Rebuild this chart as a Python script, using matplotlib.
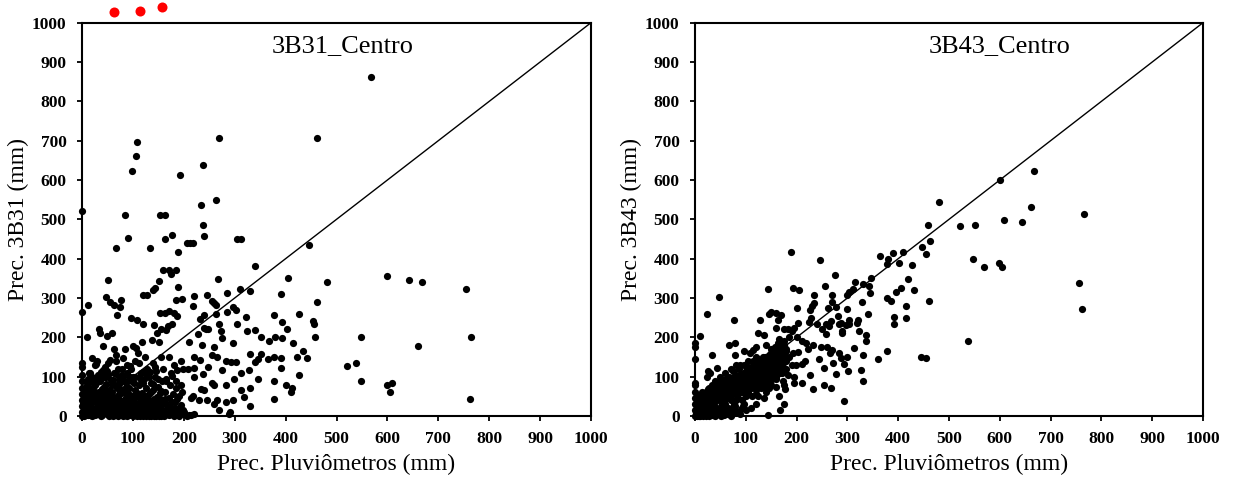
import matplotlib
matplotlib.use('Agg')
import matplotlib.pyplot as plt

plt.rcParams['font.family'] = ['Liberation Serif', 'DejaVu Serif']

# ---- 3B31 panel: (pluviometer, satellite) pairs ----
b31_scatter = [
    (567, 862), (462, 707), (270, 707), (108, 697), (107, 662), (98, 623), (237, 638),
    (192, 612), (264, 550), (234, 537), (0, 520), (84, 511), (153, 510), (164, 510),
    (238, 485), (240, 458), (90, 452), (163, 451), (176, 461), (206, 440), (213, 441),
    (218, 441), (305, 449), (312, 449), (446, 436), (66, 427), (134, 427), (189, 418),
    (339, 381), (160, 372), (170, 370), (185, 370), (175, 360), (405, 352), (268, 348),
    (152, 343), (51, 345), (482, 341), (600, 357), (643, 345), (667, 341), (754, 323),
    (189, 327), (139, 320), (144, 325), (310, 322), (330, 317), (285, 313), (47, 303),
    (76, 296), (120, 308), (128, 307), (220, 306), (245, 307), (184, 296), (196, 297),
    (255, 293), (259, 288), (55, 289), (63, 282), (11, 283), (0, 264), (69, 258),
    (75, 276), (96, 249), (108, 243), (163, 263), (170, 266), (180, 261), (187, 254),
    (153, 263), (219, 280), (263, 282), (263, 260), (240, 256), (232, 246), (284, 265),
    (297, 277), (302, 270), (378, 257), (390, 310), (462, 290), (427, 260), (393, 238),
    (454, 241), (456, 235), (322, 252), (270, 234), (273, 217), (239, 225), (247, 222),
    (304, 233), (340, 219), (325, 217), (402, 221), (176, 234), (168, 228), (155, 220),
    (165, 218), (141, 232), (147, 212), (119, 234), (59, 212), (34, 221), (35, 210),
    (10, 202), (50, 203), (380, 200), (393, 198), (457, 200), (549, 202), (764, 200),
    (352, 200), (367, 190), (297, 186), (275, 198), (243, 222), (210, 188), (227, 208),
    (138, 192), (151, 188), (118, 187), (100, 178), (107, 173), (62, 170), (42, 177),
    (85, 170), (415, 185), (434, 166), (661, 178), (260, 176), (236, 180), (330, 158),
    (352, 158), (422, 151), (442, 148), (378, 150), (390, 147), (255, 155), (265, 150),
    (293, 137), (303, 137), (339, 138), (345, 145), (282, 140), (365, 145), (521, 128),
    (538, 135), (390, 123), (275, 118), (328, 117), (313, 110), (238, 108), (248, 125),
    (220, 150), (231, 143), (195, 140), (220, 123), (170, 150), (155, 150), (180, 130),
    (175, 110), (199, 120), (208, 120), (140, 135), (112, 135), (95, 128), (80, 148),
    (66, 155), (55, 142), (30, 140), (20, 148), (0, 135), (0, 125), (45, 125), (35, 105),
    (15, 110), (27, 133), (50, 115), (70, 120), (100, 100), (125, 110), (145, 115),
    (160, 120), (150, 95), (120, 85), (90, 90), (427, 103), (378, 88), (345, 95),
    (298, 95), (220, 98), (255, 85), (260, 78), (283, 78), (195, 80), (185, 90), (165, 95),
    (549, 88), (600, 80), (609, 85), (606, 60), (762, 42), (377, 43), (400, 78), (412, 70),
    (411, 60), (313, 67), (330, 70), (233, 68), (240, 67), (297, 40), (265, 40), (245, 40),
    (230, 40), (215, 45), (218, 52), (318, 48), (330, 25), (283, 35), (260, 30), (270, 15),
    (290, 10), (288, 5), (220, 5), (215, 3), (198, 15), (190, 20), (200, 5), (210, 3),
]
b31_cluster = [
    (0, 0), (2, 5), (4, 12), (5, 20), (7, 3), (8, 30), (10, 8), (12, 15), (13, 40), (15, 2),
    (16, 25), (18, 55), (20, 10), (21, 35), (22, 70), (24, 4), (25, 18), (27, 45), (28, 85),
    (30, 6), (31, 28), (33, 60), (35, 12), (36, 90), (38, 22), (40, 3), (41, 50), (43, 75),
    (45, 15), (46, 33), (48, 100), (50, 5), (52, 25), (53, 65), (55, 40), (57, 10), (58, 80),
    (60, 18), (62, 48), (63, 110), (65, 2), (67, 30), (68, 70), (70, 14), (72, 55), (73, 95),
    (75, 7), (77, 38), (78, 120), (80, 20), (82, 60), (83, 88), (85, 3), (87, 45), (88, 130),
    (90, 12), (92, 72), (93, 28), (95, 100), (97, 6), (98, 52), (100, 35), (102, 85),
    (103, 15), (105, 140), (107, 62), (108, 4), (110, 25), (112, 78), (113, 45), (115, 110),
    (117, 8), (118, 58), (120, 30), (122, 95), (123, 16), (125, 70), (127, 42), (128, 120),
    (130, 5), (132, 55), (133, 22), (135, 85), (137, 38), (138, 10), (140, 65), (142, 30),
    (143, 100), (145, 18), (147, 48), (148, 3), (150, 75), (152, 26), (153, 58), (155, 10),
    (157, 40), (158, 88), (160, 15), (163, 62), (165, 30), (167, 5), (170, 45), (172, 80),
    (175, 20), (178, 55), (180, 8), (183, 35), (185, 70), (188, 12), (190, 50), (195, 28),
    (0, 10), (0, 25), (0, 40), (0, 55), (0, 70), (0, 90), (0, 105), (3, 48), (6, 62),
    (9, 78), (11, 95), (14, 110), (17, 5), (19, 88), (23, 60), (26, 130), (29, 20),
    (32, 105), (34, 42), (37, 0), (39, 68), (42, 118), (44, 8), (47, 82), (49, 58),
    (51, 135), (54, 0), (56, 92), (59, 30), (61, 0), (64, 78), (66, 140), (69, 42), (71, 0),
    (74, 68), (76, 25), (79, 105), (81, 0), (84, 20), (86, 75), (89, 0), (91, 40),
    (94, 128), (96, 2), (99, 90), (101, 0), (104, 65), (106, 20), (109, 0), (111, 160),
    (114, 0), (116, 92), (119, 0), (121, 48), (124, 150), (126, 0), (129, 28), (131, 0),
    (134, 112), (136, 0), (139, 82), (141, 0), (144, 125), (146, 0), (149, 35), (151, 0),
    (156, 0), (161, 0), (166, 90), (171, 2), (176, 102), (181, 0), (186, 118), (191, 0),
    (196, 62), (201, 10), (206, 0),
    # second pass over the solid block near the origin
    (1, 32), (3, 0), (6, 18), (9, 52), (11, 3), (14, 28), (17, 42), (19, 0), (22, 14),
    (24, 52), (26, 2), (29, 38), (31, 12), (34, 62), (36, 26), (39, 8), (42, 36), (44, 60),
    (47, 20), (49, 44), (52, 8), (54, 52), (57, 26), (59, 62), (61, 12), (64, 36), (66, 4),
    (69, 22), (71, 48), (74, 10), (76, 58), (79, 32), (81, 14), (84, 42), (86, 6), (89, 30),
    (91, 58), (94, 16), (96, 40), (99, 8), (101, 22), (104, 48), (106, 34), (109, 12),
    (111, 56), (114, 20), (116, 36), (119, 46), (121, 14), (124, 32), (126, 52), (129, 8),
    (131, 40), (134, 18), (136, 60), (139, 24), (141, 44), (144, 6), (146, 32), (149, 14),
    (151, 46), (154, 20), (156, 64), (159, 34), (162, 8), (164, 44), (168, 22), (173, 12),
    (177, 36), (182, 20), (187, 42), (192, 6), (5, 40), (8, 65), (12, 85), (15, 72),
    (20, 100), (25, 78), (30, 95), (37, 112), (44, 98), (52, 105), (60, 92), (67, 108),
    (72, 82), (80, 98), (88, 110), (96, 120), (104, 100), (112, 98), (120, 112), (131, 100),
]

# ---- 3B43 panel ----
b43_scatter = [
    (667, 622), (600, 601), (480, 544), (661, 531), (765, 513), (609, 498), (643, 493),
    (521, 482), (551, 485), (458, 486), (462, 446), (446, 430), (455, 412), (428, 384),
    (548, 400), (568, 380), (599, 390), (605, 380), (755, 337), (761, 273), (538, 190),
    (444, 150), (454, 148), (461, 292), (432, 321), (420, 348), (416, 280), (415, 250),
    (405, 325), (396, 315), (401, 388), (410, 416), (390, 414), (379, 400), (378, 386),
    (365, 406), (386, 292), (378, 300), (392, 252), (392, 235), (377, 165), (361, 145),
    (347, 350), (342, 330), (345, 312), (340, 260), (337, 205), (337, 190), (329, 290),
    (330, 335), (315, 340), (312, 322), (300, 308), (303, 315), (300, 273), (321, 245),
    (318, 237), (323, 217), (330, 155), (313, 172), (327, 117), (330, 90), (303, 245),
    (298, 232), (303, 233), (300, 150), (301, 115), (293, 37), (276, 358), (270, 307),
    (270, 290), (278, 276), (282, 255), (283, 234), (287, 237), (289, 216), (289, 210),
    (262, 275), (268, 241), (264, 228), (257, 235), (250, 220), (258, 208), (255, 330),
    (247, 396), (234, 307), (235, 287), (230, 280), (228, 250), (224, 240), (227, 270),
    (240, 235), (260, 175), (265, 160), (270, 168), (284, 160), (287, 148), (293, 133),
    (272, 135), (253, 122), (277, 106), (268, 72), (254, 78), (233, 68), (245, 145),
    (248, 175), (232, 180), (222, 170), (226, 105), (210, 85), (216, 140), (211, 132),
    (200, 275), (203, 237), (205, 320), (192, 326), (189, 418), (143, 324), (128, 244),
    (150, 265), (146, 260), (160, 262), (170, 258), (163, 245), (160, 225), (175, 220),
    (183, 222), (190, 215), (195, 225), (185, 200), (200, 200), (210, 190), (218, 185),
    (193, 160), (203, 162), (198, 130), (190, 130), (194, 100), (183, 105), (195, 85),
    (176, 78), (178, 68), (173, 90), (166, 52), (175, 30), (167, 15), (144, 2), (140, 60),
    (146, 70), (135, 45), (125, 50), (120, 30), (110, 20), (103, 55), (100, 15), (95, 25),
    (88, 5), (82, 10), (77, 243), (78, 185), (79, 155), (80, 130), (82, 100), (70, 120),
    (67, 180), (60, 80), (47, 303), (23, 259), (10, 203), (0, 185), (0, 175), (0, 145),
    (0, 85), (0, 80), (33, 155), (43, 122), (30, 110), (23, 98), (25, 115), (108, 160),
    (115, 168), (120, 175), (125, 210), (135, 205), (140, 180), (150, 170), (158, 175),
    (165, 195), (175, 180), (180, 170), (150, 140), (140, 130), (130, 120), (115, 140),
    (100, 115), (110, 105), (125, 95), (155, 110), (160, 95), (170, 120), (180, 140),
    (185, 150), (145, 155), (138, 150), (120, 150), (96, 165), (88, 130), (92, 100),
    (90, 80), (100, 75), (115, 80), (130, 70), (150, 80), (160, 75),
]
b43_cluster = [
    (0, 0), (2, 8), (3, 20), (5, 3), (6, 35), (8, 12), (9, 45), (11, 25), (12, 5), (14, 40),
    (15, 18), (17, 55), (18, 30), (20, 8), (21, 62), (23, 22), (24, 45), (26, 12), (27, 70),
    (29, 35), (30, 55), (32, 18), (33, 80), (35, 42), (36, 60), (38, 28), (39, 90), (41, 50),
    (42, 70), (44, 15), (45, 85), (47, 40), (48, 62), (50, 100), (51, 25), (53, 75),
    (54, 50), (56, 90), (57, 35), (59, 65), (60, 110), (62, 45), (63, 85), (65, 20),
    (66, 100), (68, 58), (69, 75), (71, 40), (72, 95), (74, 62), (75, 115), (77, 30),
    (78, 82), (80, 55), (81, 105), (83, 70), (84, 45), (86, 92), (87, 120), (89, 60),
    (90, 85), (92, 40), (93, 105), (95, 72), (96, 130), (98, 55), (99, 95), (101, 80),
    (102, 115), (104, 62), (105, 140), (107, 90), (108, 70), (110, 125), (111, 100),
    (113, 50), (114, 110), (116, 85), (117, 135), (119, 95), (120, 65), (122, 120),
    (123, 105), (125, 145), (126, 80), (128, 115), (129, 100), (131, 130), (132, 88),
    (134, 150), (135, 110), (137, 75), (138, 125), (140, 100), (141, 145), (143, 115),
    (144, 85), (146, 135), (147, 105), (149, 160), (150, 120), (152, 95), (153, 140),
    (155, 115), (156, 170), (158, 130), (159, 100), (161, 150), (162, 120), (164, 185),
    (165, 140), (167, 110), (168, 160), (170, 135), (171, 175), (173, 125), (174, 150),
    (176, 190), (177, 140), (179, 165), (180, 120), (0, 15), (0, 30), (0, 45), (0, 60),
    (1, 5), (4, 0), (7, 0), (10, 0), (13, 2), (16, 0), (19, 10), (22, 0), (25, 5), (28, 0),
    (31, 8), (34, 2), (37, 10), (40, 0), (43, 18), (46, 5), (49, 12), (52, 0), (55, 10),
    (58, 2), (61, 15), (64, 5), (67, 12), (70, 0), (73, 20), (76, 8), (79, 25), (85, 10),
    (91, 18), (97, 30),
    # second pass along the diagonal block
    (4, 28), (7, 52), (10, 15), (13, 60), (16, 35), (19, 48), (22, 30), (25, 68), (28, 50),
    (31, 25), (34, 72), (37, 48), (40, 38), (43, 65), (46, 52), (49, 80), (52, 40),
    (55, 68), (58, 50), (61, 95), (64, 60), (67, 45), (70, 85), (73, 55), (76, 100),
    (79, 70), (82, 88), (85, 65), (88, 105), (91, 78), (94, 92), (97, 110), (100, 90),
    (103, 125), (106, 100), (109, 85), (112, 120), (115, 105), (118, 130), (121, 95),
    (124, 130), (127, 110), (130, 140), (133, 125), (136, 95), (139, 135), (142, 110),
    (145, 150), (148, 128), (151, 108), (154, 155), (157, 120), (160, 140), (163, 165),
    (166, 128), (169, 150), (172, 110), (175, 160), (178, 145), (60, 30), (70, 50),
    (80, 40), (90, 60), (100, 50), (110, 70), (120, 55), (130, 85), (140, 75), (150, 95),
]

# the three red dots above the first panel
red_x = [63, 113, 158]
red_y = [1026, 1031, 1040]

ticks = list(range(0, 1001, 100))
panels = [
    ('3B31_Centro', 'Prec. 3B31 (mm)', b31_scatter + b31_cluster, 0.513),
    ('3B43_Centro', 'Prec. 3B43 (mm)', b43_scatter + b43_cluster, 0.60),
]

fig = plt.figure(figsize=(12.37, 4.84), dpi=100)
axes_pos = [
    [82 / 1237, 68 / 484, 509 / 1237, 393.3 / 484],
    [695 / 1237, 68 / 484, 508 / 1237, 393.3 / 484],
]

for i, (title, ylab, pts, title_x) in enumerate(panels):
    ax = fig.add_axes(axes_pos[i])
    xs = [p[0] for p in pts]
    ys = [p[1] for p in pts]
    ax.scatter(xs, ys, s=27, color='black', linewidths=0, clip_on=False, zorder=3)
    ax.plot([0, 1000], [0, 1000], color='black', lw=1.0, zorder=2)
    ax.set_xlim(0, 1000)
    ax.set_ylim(0, 1000)
    ax.set_xticks(ticks)
    ax.set_yticks(ticks)
    ax.tick_params(direction='out', length=3.6, width=1.3, pad=7.5, labelsize=12.5)
    for lab in ax.get_xticklabels() + ax.get_yticklabels():
        lab.set_fontweight('bold')
    for sp in ax.spines.values():
        sp.set_linewidth(1.5)
    ax.set_xlabel('Prec. Pluviômetros (mm)', fontsize=17, labelpad=5)
    ax.set_ylabel(ylab, fontsize=17, labelpad=2)
    ax.text(title_x, 0.941, title, transform=ax.transAxes, ha='center', va='center',
            fontsize=19)
    if i == 0:
        ax.scatter(red_x, red_y, s=52, color='red', linewidths=0, clip_on=False, zorder=4)

fig.savefig('out.png', dpi=100)
